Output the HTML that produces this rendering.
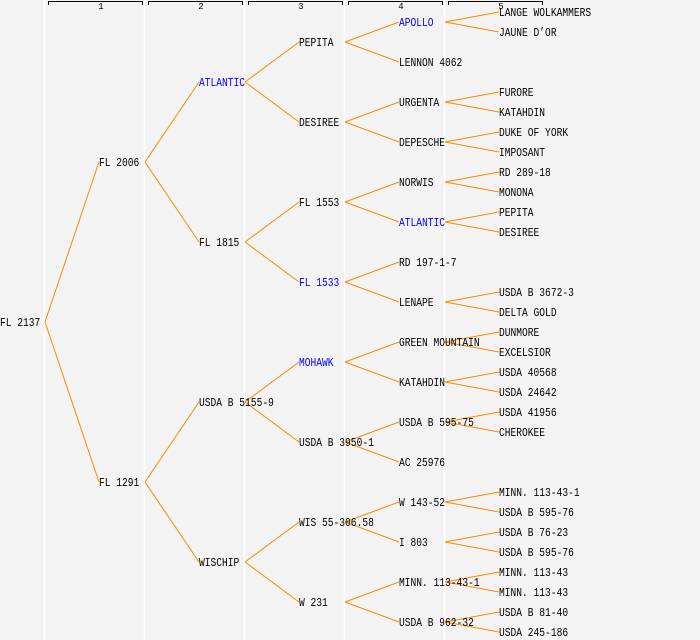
<!DOCTYPE html>
<html><head><meta charset="utf-8"><style>
html,body{margin:0;padding:0;background:#f3f3f3;}
svg{display:block;}
text{font-family:"Liberation Mono","DejaVu Sans Mono",monospace;font-size:12px;fill:#000;}
.b{fill:#0000ff;}
.h{font-size:9px;text-anchor:middle;}
line.o{stroke:#ff8800;stroke-width:1;}
</style></head><body>
<svg width="700" height="640" viewBox="0 0 700 640" xmlns="http://www.w3.org/2000/svg">
<rect width="700" height="640" fill="#f3f3f3"/>
<g stroke="#ffffff" stroke-width="1.5">
<line x1="44.5" y1="0" x2="44.5" y2="640"/><line x1="144.5" y1="0" x2="144.5" y2="640"/>
<line x1="244.5" y1="0" x2="244.5" y2="640"/><line x1="344.5" y1="0" x2="344.5" y2="640"/>
<line x1="444.5" y1="0" x2="444.5" y2="640"/>
</g>
<g stroke="#000" stroke-width="1" fill="none">
<path d="M48.5 5V1.5H142.5V5"/><path d="M148.5 5V1.5H242.5V5"/><path d="M248.5 5V1.5H342.5V5"/>
<path d="M348.5 5V1.5H442.5V5"/><path d="M448.5 5V1.5H542.5V5"/>
</g>
<text class="h" x="101" y="9">1</text><text class="h" x="201" y="9">2</text><text class="h" x="301" y="9">3</text><text class="h" x="401" y="9">4</text><text class="h" x="501" y="9">5</text>
<g>
<line class="o" x1="45" y1="322" x2="99" y2="162"/><line class="o" x1="45" y1="322" x2="99" y2="482"/>
<line class="o" x1="145" y1="162" x2="199" y2="82"/><line class="o" x1="145" y1="162" x2="199" y2="242"/>
<line class="o" x1="145" y1="482" x2="199" y2="402"/><line class="o" x1="145" y1="482" x2="199" y2="562"/>
<line class="o" x1="245" y1="82" x2="299" y2="42"/><line class="o" x1="245" y1="82" x2="299" y2="122"/>
<line class="o" x1="245" y1="242" x2="299" y2="202"/><line class="o" x1="245" y1="242" x2="299" y2="282"/>
<line class="o" x1="245" y1="402" x2="299" y2="362"/><line class="o" x1="245" y1="402" x2="299" y2="442"/>
<line class="o" x1="245" y1="562" x2="299" y2="522"/><line class="o" x1="245" y1="562" x2="299" y2="602"/>
<line class="o" x1="345" y1="42" x2="399" y2="22"/><line class="o" x1="345" y1="42" x2="399" y2="62"/>
<line class="o" x1="345" y1="122" x2="399" y2="102"/><line class="o" x1="345" y1="122" x2="399" y2="142"/>
<line class="o" x1="345" y1="202" x2="399" y2="182"/><line class="o" x1="345" y1="202" x2="399" y2="222"/>
<line class="o" x1="345" y1="282" x2="399" y2="262"/><line class="o" x1="345" y1="282" x2="399" y2="302"/>
<line class="o" x1="345" y1="362" x2="399" y2="342"/><line class="o" x1="345" y1="362" x2="399" y2="382"/>
<line class="o" x1="345" y1="442" x2="399" y2="422"/><line class="o" x1="345" y1="442" x2="399" y2="462"/>
<line class="o" x1="345" y1="522" x2="399" y2="502"/><line class="o" x1="345" y1="522" x2="399" y2="542"/>
<line class="o" x1="345" y1="602" x2="399" y2="582"/><line class="o" x1="345" y1="602" x2="399" y2="622"/>
<line class="o" x1="445" y1="22" x2="499" y2="12"/><line class="o" x1="445" y1="22" x2="499" y2="32"/>
<line class="o" x1="445" y1="102" x2="499" y2="92"/><line class="o" x1="445" y1="102" x2="499" y2="112"/>
<line class="o" x1="445" y1="142" x2="499" y2="132"/><line class="o" x1="445" y1="142" x2="499" y2="152"/>
<line class="o" x1="445" y1="182" x2="499" y2="172"/><line class="o" x1="445" y1="182" x2="499" y2="192"/>
<line class="o" x1="445" y1="222" x2="499" y2="212"/><line class="o" x1="445" y1="222" x2="499" y2="232"/>
<line class="o" x1="445" y1="302" x2="499" y2="292"/><line class="o" x1="445" y1="302" x2="499" y2="312"/>
<line class="o" x1="445" y1="342" x2="499" y2="332"/><line class="o" x1="445" y1="342" x2="499" y2="352"/>
<line class="o" x1="445" y1="382" x2="499" y2="372"/><line class="o" x1="445" y1="382" x2="499" y2="392"/>
<line class="o" x1="445" y1="422" x2="499" y2="412"/><line class="o" x1="445" y1="422" x2="499" y2="432"/>
<line class="o" x1="445" y1="502" x2="499" y2="492"/><line class="o" x1="445" y1="502" x2="499" y2="512"/>
<line class="o" x1="445" y1="542" x2="499" y2="532"/><line class="o" x1="445" y1="542" x2="499" y2="552"/>
<line class="o" x1="445" y1="582" x2="499" y2="572"/><line class="o" x1="445" y1="582" x2="499" y2="592"/>
<line class="o" x1="445" y1="622" x2="499" y2="612"/><line class="o" x1="445" y1="622" x2="499" y2="632"/>
</g>
<g transform="scale(0.8,1)">
<text x="0" y="326">FL 2137</text>
<text x="123.75" y="166">FL 2006</text><text x="123.75" y="486">FL 1291</text>
<text class="b" x="248.75" y="86">ATLANTIC</text><text x="248.75" y="246">FL 1815</text>
<text x="248.75" y="406">USDA B 5155-9</text><text x="248.75" y="566">WISCHIP</text>
<text x="373.75" y="46">PEPITA</text><text x="373.75" y="126">DESIREE</text><text x="373.75" y="206">FL 1553</text>
<text class="b" x="373.75" y="286">FL 1533</text><text class="b" x="373.75" y="366">MOHAWK</text>
<text x="373.75" y="446">USDA B 3950-1</text><text x="373.75" y="526">WIS 55-306.58</text><text x="373.75" y="606">W 231</text>
<text class="b" x="498.75" y="26">APOLLO</text><text x="498.75" y="66">LENNON 4062</text><text x="498.75" y="106">URGENTA</text>
<text x="498.75" y="146">DEPESCHE</text><text x="498.75" y="186">NORWIS</text><text class="b" x="498.75" y="226">ATLANTIC</text>
<text x="498.75" y="266">RD 197-1-7</text><text x="498.75" y="306">LENAPE</text><text x="498.75" y="346">GREEN MOUNTAIN</text>
<text x="498.75" y="386">KATAHDIN</text><text x="498.75" y="426">USDA B 595-75</text><text x="498.75" y="466">AC 25976</text>
<text x="498.75" y="506">W 143-52</text><text x="498.75" y="546">I 803</text><text x="498.75" y="586">MINN. 113-43-1</text>
<text x="498.75" y="626">USDA B 962-32</text>
<text x="623.75" y="16">LANGE WOLKAMMERS</text><text x="623.75" y="36">JAUNE D’OR</text>
<text x="623.75" y="96">FURORE</text><text x="623.75" y="116">KATAHDIN</text>
<text x="623.75" y="136">DUKE OF YORK</text><text x="623.75" y="156">IMPOSANT</text>
<text x="623.75" y="176">RD 289-18</text><text x="623.75" y="196">MONONA</text>
<text x="623.75" y="216">PEPITA</text><text x="623.75" y="236">DESIREE</text>
<text x="623.75" y="296">USDA B 3672-3</text><text x="623.75" y="316">DELTA GOLD</text>
<text x="623.75" y="336">DUNMORE</text><text x="623.75" y="356">EXCELSIOR</text>
<text x="623.75" y="376">USDA 40568</text><text x="623.75" y="396">USDA 24642</text>
<text x="623.75" y="416">USDA 41956</text><text x="623.75" y="436">CHEROKEE</text>
<text x="623.75" y="496">MINN. 113-43-1</text><text x="623.75" y="516">USDA B 595-76</text>
<text x="623.75" y="536">USDA B 76-23</text><text x="623.75" y="556">USDA B 595-76</text>
<text x="623.75" y="576">MINN. 113-43</text><text x="623.75" y="596">MINN. 113-43</text>
<text x="623.75" y="616">USDA B 81-40</text><text x="623.75" y="636">USDA 245-186</text>
</g>
</svg>
</body></html>
